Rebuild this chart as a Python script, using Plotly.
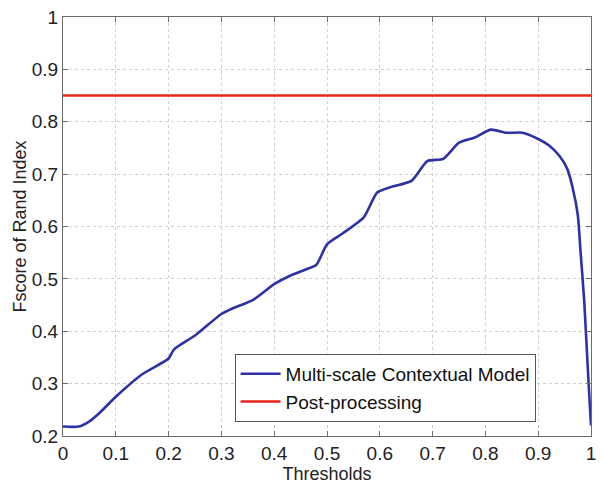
import plotly.graph_objects as go

thresholds = [0, 0.03, 0.05, 0.07, 0.1, 0.15, 0.2, 0.21, 0.25, 0.3, 0.32, 0.36, 0.4, 0.43, 0.46,
              0.48, 0.5, 0.53, 0.57, 0.595, 0.62, 0.66, 0.69, 0.72, 0.75, 0.78, 0.81, 0.84, 0.87,
              0.9, 0.92, 0.94, 0.955, 0.965, 0.975, 0.98, 0.987, 0.992, 0.997, 1.0]
multiscale = [0.218, 0.218, 0.228, 0.245, 0.275, 0.318, 0.348, 0.365, 0.392, 0.433, 0.443, 0.46,
              0.49, 0.506, 0.518, 0.527, 0.566, 0.587, 0.618, 0.665, 0.675, 0.687, 0.725, 0.729,
              0.76, 0.77, 0.785, 0.779, 0.779, 0.767, 0.755, 0.735, 0.71, 0.675, 0.622, 0.555,
              0.46, 0.366, 0.272, 0.22]
post_x = [0, 1]
post_y = [0.85, 0.85]

x_ticks = [0, 0.1, 0.2, 0.3, 0.4, 0.5, 0.6, 0.7, 0.8, 0.9, 1]
x_labels = ["0", "0.1", "0.2", "0.3", "0.4", "0.5", "0.6", "0.7", "0.8", "0.9", "1"]
y_ticks = [0.2, 0.3, 0.4, 0.5, 0.6, 0.7, 0.8, 0.9, 1]
y_labels = ["0.2", "0.3", "0.4", "0.5", "0.6", "0.7", "0.8", "0.9", "1"]

font = "Liberation Sans, Arial, sans-serif"

fig = go.Figure()
fig.add_trace(go.Scatter(x=thresholds, y=multiscale, mode="lines",
                         line=dict(color="#2E31A6", width=2.6, shape="spline", smoothing=0.6),
                         name="Multi-scale Contextual Model"))
fig.add_trace(go.Scatter(x=post_x, y=post_y, mode="lines",
                         line=dict(color="#E8241C", width=2.4),
                         name="Post-processing"))

axis_common = dict(showline=True, linecolor="#6b6b6b", linewidth=1.2, mirror="allticks",
                   ticks="inside", ticklen=5, tickcolor="#6b6b6b",
                   showgrid=True, gridcolor="#cfcfcf", griddash="dot", gridwidth=1,
                   zeroline=False, tickfont=dict(family=font, size=19, color="#222"))

fig.update_layout(
    width=603, height=484,
    margin=dict(l=63, r=7, t=14, b=46),
    paper_bgcolor="white", plot_bgcolor="white",
    font=dict(family=font, size=19, color="#222"),
    xaxis=dict(range=[0, 1], tickvals=x_ticks, ticktext=x_labels,
               title=dict(text="Thresholds", font=dict(family=font, size=18), standoff=0),
               **axis_common),
    yaxis=dict(range=[0.2, 1], tickvals=y_ticks, ticktext=y_labels,
               title=dict(text="Fscore of Rand Index", font=dict(family=font, size=18), standoff=0),
               **axis_common),
    legend=dict(x=0.325, y=0.196, xanchor="left", yanchor="top",
                bgcolor="white", bordercolor="#555", borderwidth=1,
                font=dict(family=font, size=19, color="#111"),
                tracegroupgap=0, itemwidth=40),
    showlegend=True,
)

fig.write_html("out.html")
